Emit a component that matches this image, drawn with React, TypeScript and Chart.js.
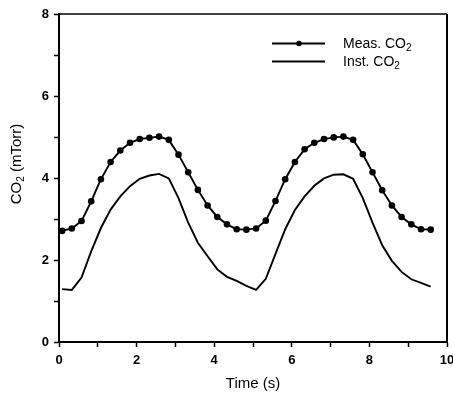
import { useEffect, useRef } from "react";
import { Chart, registerables } from "chart.js";

Chart.register(...registerables);

// Sample times (s)
const times = [
  0.08, 0.33, 0.58, 0.83, 1.08, 1.33, 1.58, 1.83, 2.08, 2.33,
  2.58, 2.83, 3.08, 3.33, 3.58, 3.83, 4.08, 4.33, 4.58, 4.83,
  5.08, 5.33, 5.58, 5.83, 6.08, 6.33, 6.58, 6.83, 7.08, 7.33,
  7.58, 7.83, 8.08, 8.33, 8.58, 8.83, 9.08, 9.33, 9.58,
];

// Measured CO2 (mTorr)
const measCO2 = [
  2.71, 2.77, 2.95, 3.43, 3.97, 4.39, 4.67, 4.86, 4.95, 4.98,
  5.01, 4.93, 4.57, 4.14, 3.71, 3.33, 3.05, 2.87, 2.75, 2.74,
  2.77, 2.96, 3.44, 3.97, 4.39, 4.7, 4.86, 4.95, 4.99, 5.01,
  4.93, 4.58, 4.14, 3.7, 3.33, 3.05, 2.87, 2.75, 2.74,
];

// Instantaneous CO2 (mTorr)
const instCO2 = [
  1.29, 1.27, 1.57, 2.21, 2.78, 3.23, 3.55, 3.8, 3.98, 4.06,
  4.1, 3.99, 3.51, 2.91, 2.42, 2.09, 1.77, 1.59, 1.49, 1.37,
  1.27, 1.54, 2.15, 2.75, 3.22, 3.55, 3.81, 3.99, 4.08, 4.09,
  3.98, 3.51, 2.91, 2.36, 1.98, 1.71, 1.53, 1.44, 1.35,
];

const xTickLabels = [0, 2, 4, 6, 8, 10];
const yTickLabels = [0, 2, 4, 6, 8];

const FONT = "'Liberation Sans', Arial, Helvetica, sans-serif";

// Draws head + subscript "2" + tail, left aligned, middle baseline
function drawCO2(
  ctx: CanvasRenderingContext2D,
  x: number,
  y: number,
  head: string,
  tail: string,
  size: number
) {
  const subSize = Math.round(size * 0.68);
  ctx.font = `${size}px ${FONT}`;
  const wHead = ctx.measureText(head).width;
  ctx.fillText(head, x, y);
  ctx.font = `${subSize}px ${FONT}`;
  const wSub = ctx.measureText("2").width;
  ctx.fillText("2", x + wHead, y + size * 0.28);
  ctx.font = `${size}px ${FONT}`;
  ctx.fillText(tail, x + wHead + wSub, y);
}

function widthCO2(ctx: CanvasRenderingContext2D, head: string, tail: string, size: number) {
  ctx.font = `${size}px ${FONT}`;
  const a = ctx.measureText(head).width + ctx.measureText(tail).width;
  ctx.font = `${Math.round(size * 0.68)}px ${FONT}`;
  return a + ctx.measureText("2").width;
}

const framePlugin = {
  id: "frameAndLegend",
  afterDraw(chart: Chart) {
    const { ctx, chartArea } = chart;
    ctx.save();
    ctx.strokeStyle = "#000";
    ctx.fillStyle = "#000";

    // top and right edges of the plot frame
    ctx.lineWidth = 1.5;
    ctx.beginPath();
    ctx.moveTo(chartArea.left, chartArea.top);
    ctx.lineTo(chartArea.right, chartArea.top);
    ctx.stroke();
    ctx.lineWidth = 2;
    ctx.beginPath();
    ctx.moveTo(chartArea.right, chartArea.top);
    ctx.lineTo(chartArea.right, chartArea.bottom);
    ctx.stroke();

    // legend
    ctx.lineWidth = 1.8;
    ctx.textBaseline = "middle";
    ctx.textAlign = "left";
    const rows = [
      { y: 43.5, label: "Meas. ", dot: true },
      { y: 61.5, label: "Inst. ", dot: false },
    ];
    for (const r of rows) {
      ctx.beginPath();
      ctx.moveTo(272, r.y);
      ctx.lineTo(325, r.y);
      ctx.stroke();
      if (r.dot) {
        ctx.beginPath();
        ctx.arc(299, r.y, 2.8, 0, Math.PI * 2);
        ctx.fill();
      }
      drawCO2(ctx, 343, r.y + 1, r.label + "CO", "", 14);
    }

    // y-axis title, rotated
    const title = { head: "CO", tail: " (mTorr)" };
    const tw = widthCO2(ctx, title.head, title.tail, 15);
    ctx.translate(17, 164);
    ctx.rotate(-Math.PI / 2);
    drawCO2(ctx, -tw / 2, 0, title.head, title.tail, 15);
    ctx.restore();
  },
};

export default function App() {
  const canvasRef = useRef<HTMLCanvasElement | null>(null);

  useEffect(() => {
    const canvas = canvasRef.current;
    if (!canvas) return;

    const tickFont = { family: FONT, size: 13, weight: "bold" as const };

    const chart = new Chart(canvas, {
      type: "line",
      data: {
        datasets: [
          {
            label: "Meas. CO2",
            data: times.map((t, i) => ({ x: t, y: measCO2[i] })),
            borderColor: "#000",
            backgroundColor: "#000",
            borderWidth: 1.9,
            pointRadius: 3.3,
            pointBorderWidth: 0,
            pointBackgroundColor: "#000",
            tension: 0,
          },
          {
            label: "Inst. CO2",
            data: times.map((t, i) => ({ x: t, y: instCO2[i] })),
            borderColor: "#000",
            borderWidth: 1.9,
            pointRadius: 0,
            tension: 0,
          },
        ],
      },
      options: {
        responsive: false,
        animation: false,
        events: [],
        layout: { padding: { top: 14, right: 6, left: 0, bottom: 0 } },
        plugins: {
          legend: { display: false },
          tooltip: { enabled: false },
        },
        scales: {
          x: {
            type: "linear",
            min: 0,
            max: 10,
            border: { display: true, color: "#000", width: 2 },
            grid: {
              drawOnChartArea: false,
              drawTicks: true,
              tickLength: 5,
              tickWidth: 1.5,
              tickColor: "#000",
            },
            ticks: {
              stepSize: 1,
              autoSkip: false,
              maxRotation: 0,
              color: "#000",
              font: tickFont,
              padding: 6,
              callback: (v) => (xTickLabels.includes(Number(v)) ? String(v) : ""),
            },
            title: {
              display: true,
              text: "Time (s)",
              color: "#000",
              font: { family: FONT, size: 15 },
              padding: { top: 0, bottom: 1 },
            },
            afterFit: (s: any) => {
              s.height = 52;
              s.paddingLeft = 0;
              s.paddingRight = 0;
            },
          },
          y: {
            type: "linear",
            min: 0,
            max: 8,
            border: { display: true, color: "#000", width: 2 },
            grid: {
              drawOnChartArea: false,
              drawTicks: true,
              tickLength: 5,
              tickWidth: 1.5,
              tickColor: "#000",
            },
            ticks: {
              stepSize: 1,
              autoSkip: false,
              color: "#000",
              font: tickFont,
              padding: 5,
              callback: (v) => (yTickLabels.includes(Number(v)) ? String(v) : ""),
            },
            afterFit: (s: any) => {
              s.width = 59;
              s.paddingTop = 0;
              s.paddingBottom = 0;
            },
          },
        },
      },
      plugins: [framePlugin],
    });

    return () => chart.destroy();
  }, []);

  return (
    <div style={{ position: "absolute", left: 0, top: 0, width: 453, height: 394, background: "#fff" }}>
      <canvas ref={canvasRef} width={453} height={394} style={{ display: "block" }} />
    </div>
  );
}
